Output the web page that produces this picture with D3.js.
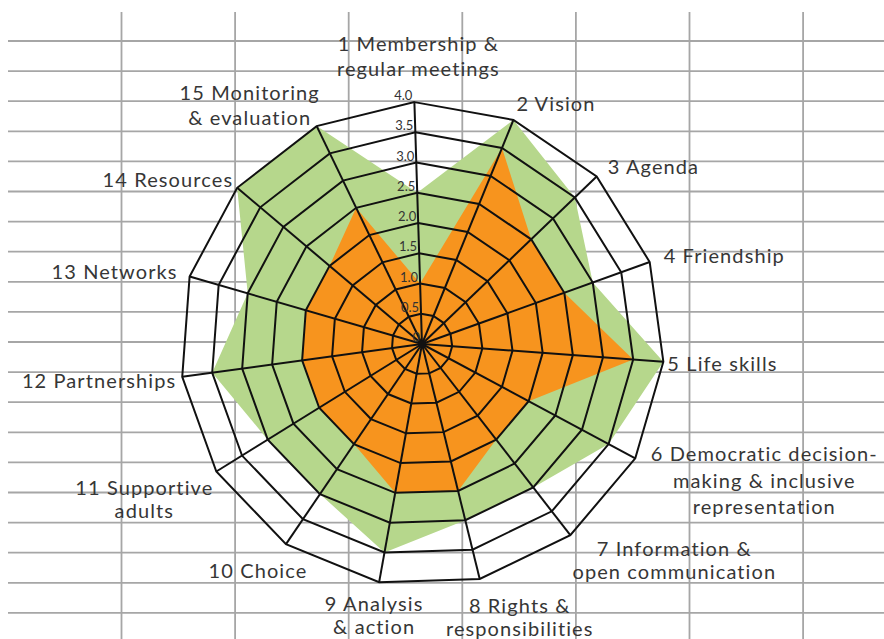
<!DOCTYPE html>
<html lang="en">
<head>
<meta charset="UTF-8">
<title>Radar</title>
<script src="https://d3js.org/d3.v7.min.js"></script>
<style>
  body { margin: 0; background: #fff; }
  svg { display: block; }
  .lbl { font-family: Lato, "Open Sans", sans-serif; font-size: 20px; letter-spacing: 1.1px; fill: #363636; }
  .tick { font-family: Lato, sans-serif; font-size: 13px; fill: #333; }
</style>
</head>
<body>
<svg id="chart" width="884" height="639"></svg>
<script>
// categories (line breaks as in the picture)
const categories = [
  "1 Membership &\nregular meetings",
  "2 Vision",
  "3 Agenda",
  "4 Friendship",
  "5  Life skills",
  "6 Democratic decision-\nmaking & inclusive\nrepresentation",
  "7 Information &\nopen communication",
  "8 Rights &\nresponsibilities",
  "9 Analysis\n& action",
  "10 Choice",
  "11 Supportive\nadults",
  "12 Partnerships",
  "13 Networks",
  "14 Resources",
  "15 Monitoring\n& evaluation"
];
// outer (green) and inner (orange) series
const greenValues  = [2.5, 4.0, 3.5, 3.0, 4.0, 3.5, 3.0, 3.0, 3.5, 3.0, 3.0, 3.5, 3.0, 4.0, 4.0];
const orangeValues = [1.0, 3.5, 2.5, 2.5, 3.5, 2.0, 2.0, 2.5, 2.5, 2.0, 2.0, 2.0, 2.0, 2.0, 2.5];
const tickValues = [0, 0.5, 1.0, 1.5, 2.0, 2.5, 3.0, 3.5, 4.0];
const tickLabels = ["0", "0.5", "1.0", "1.5", "2.0", "2.5", "3.0", "3.5", "4.0"];

// label placement relative to the outer vertex of each axis: [anchor, dx, dy, lineHeight]
const labelLayout = [
  ["middle", 4, -51, 25],
  ["start", 3, -9, 24],
  ["start", 11, -3, 24],
  ["start", 14, 1, 24],
  ["start", 4, 9, 24],
  ["middle", 129, 3, 26.5],
  ["middle", 104, 21, 23],
  ["middle", 40, 34, 23],
  ["middle", -5, 29, 23],
  ["middle", -28, 34, 23],
  ["middle", -72, 23, 23],
  ["end", -6, 11, 24],
  ["end", -12, 3, 24],
  ["end", -4, -1, 24],
  ["middle", -67, -26, 25]
];

const svg = d3.select("#chart");
const W = 884, H = 639;
const cx = 422, cy = 344, R = 242;
const rot = -1.8 * Math.PI / 180;
const n = categories.length;

// background spreadsheet grid
const grid = svg.append("g").attr("stroke", "#a6a6a6").attr("stroke-width", 1.8);
const rowY = d3.scaleLinear().domain([0, 1]).range([41, 71.1]);
const colX = d3.scaleLinear().domain([0, 1]).range([121.5, 235.1]);
grid.selectAll("line.h").data(d3.range(0, 20)).join("line")
  .attr("class", "h").attr("x1", 8).attr("x2", W)
  .attr("y1", d => rowY(d)).attr("y2", d => rowY(d));
grid.selectAll("line.v").data(d3.range(0, 7)).join("line")
  .attr("class", "v").attr("y1", 12).attr("y2", H)
  .attr("x1", d => colX(d)).attr("x2", d => colX(d));

const r = d3.scaleLinear().domain([0, 4]).range([0, R]);
const angle = d3.scaleLinear().domain([0, n]).range([rot, rot + 2 * Math.PI]);

const g = svg.append("g").attr("transform", `translate(${cx},${cy})`);

const radar = d3.lineRadial()
  .angle((d, i) => angle(i))
  .radius(d => r(d))
  .curve(d3.curveLinearClosed);

g.append("path").datum(greenValues).attr("d", radar).attr("fill", "#b6d78c");
g.append("path").datum(orangeValues).attr("d", radar).attr("fill", "#f7941e");

// rings
g.selectAll("path.ring").data(tickValues.filter(v => v > 0)).join("path")
  .attr("class", "ring")
  .attr("d", v => radar(d3.range(n).map(() => v)))
  .attr("fill", "none").attr("stroke", "#111").attr("stroke-width", 2);

// spokes
const pt = (i, v) => [r(v) * Math.sin(angle(i)), -r(v) * Math.cos(angle(i))];
g.selectAll("line.spoke").data(d3.range(n)).join("line")
  .attr("class", "spoke")
  .attr("x1", 0).attr("y1", 0)
  .attr("x2", i => pt(i, 4)[0]).attr("y2", i => pt(i, 4)[1])
  .attr("stroke", "#111").attr("stroke-width", 2);
g.append("circle").attr("r", 4).attr("fill", "#111");

// tick labels along axis 1
g.selectAll("text.tick").data(tickValues).join("text")
  .attr("class", "tick")
  .attr("text-anchor", "end")
  .attr("x", v => pt(0, v)[0] - 2)
  .attr("y", v => pt(0, v)[1] - 2)
  .text((v, i) => tickLabels[i]);

// axis labels
categories.forEach((c, i) => {
  const [anchor, dx, dy, lh] = labelLayout[i];
  const p = pt(i, 4);
  const t = g.append("text").attr("class", "lbl").attr("text-anchor", anchor);
  c.split("\n").forEach((line, k) => {
    t.append("tspan").attr("x", p[0] + dx).attr("y", p[1] + dy + k * lh).text(line);
  });
});
</script>
</body>
</html>
